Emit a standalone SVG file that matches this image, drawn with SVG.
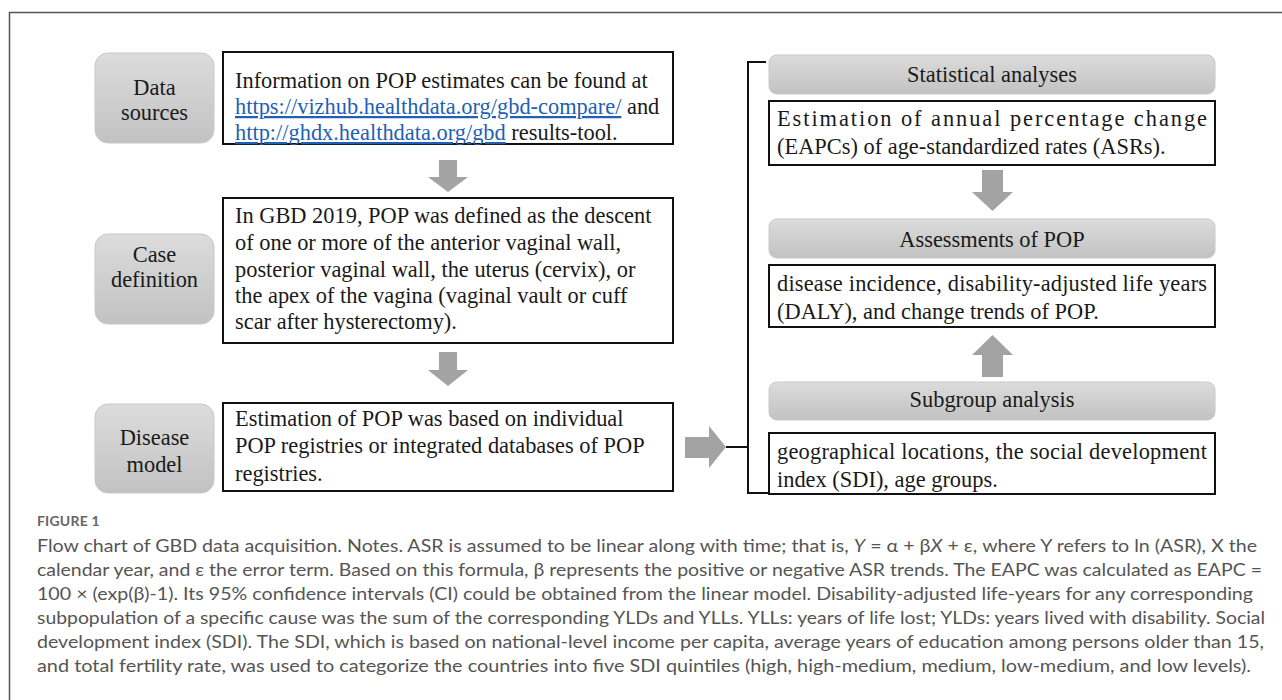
<svg xmlns="http://www.w3.org/2000/svg" width="1282" height="700" viewBox="0 0 1282 700">
<defs>
<linearGradient id="gray" x1="0" y1="0" x2="0" y2="1">
<stop offset="0" stop-color="#dcdcdc"/>
<stop offset="1" stop-color="#c2c2c2"/>
</linearGradient>
<style>
.lbl{fill:url(#gray);stroke:#c8c8c8;stroke-width:1}
.box{fill:#fff;stroke:#111;stroke-width:2}
.t{font-family:"Liberation Serif","Times New Roman",serif;font-size:22.4px;fill:#1a1a1a}
.c{text-anchor:middle}
.lnk{fill:#1f5fb4;text-decoration:underline}
.arr{fill:#a3a3a3}
.cap{font-family:Lato,"Open Sans",sans-serif;font-size:17.5px;fill:#555}
.fig{font-family:Lato,"Open Sans",sans-serif;font-size:14px;font-weight:bold;fill:#666;letter-spacing:0.2px}
.ln{fill:none;stroke:#111;stroke-width:2}
</style>
</defs>
<rect width="1282" height="700" fill="#fff"/>
<path d="M9.5,710 V12.5 H1290" fill="none" stroke="#555" stroke-width="1.5"/>

<g id="data-sources">
<rect class="lbl" x="95" y="53" width="119" height="90" rx="13"/>
<text class="t c" x="154.5" y="95">Data</text>
<text class="t c" x="154.5" y="120">sources</text>
</g>
<g id="info-box">
<rect class="box" x="223" y="52" width="450" height="92"/>
<text class="t" x="235" y="88">Information on POP estimates can be found at</text>
<text class="t" x="235" y="114"><tspan class="lnk">https://vizhub.healthdata.org/gbd-compare/</tspan> and</text>
<text class="t" x="235" y="140"><tspan class="lnk">http://ghdx.healthdata.org/gbd</tspan> results-tool.</text>
</g>
<g id="case-definition">
<rect class="lbl" x="95" y="234" width="119" height="90" rx="13"/>
<text class="t c" x="154.5" y="262">Case</text>
<text class="t c" x="154.5" y="287">definition</text>
</g>
<g id="case-box">
<rect class="box" x="223" y="198" width="450" height="145"/>
<text class="t" x="235" y="223">In GBD 2019, POP was defined as the descent</text>
<text class="t" x="235" y="250">of one or more of the anterior vaginal wall,</text>
<text class="t" x="235" y="277">posterior vaginal wall, the uterus (cervix), or</text>
<text class="t" x="235" y="303">the apex of the vagina (vaginal vault or cuff</text>
<text class="t" x="235" y="329">scar after hysterectomy).</text>
</g>
<g id="disease-model">
<rect class="lbl" x="95" y="404" width="119" height="89" rx="13"/>
<text class="t c" x="154.5" y="445">Disease</text>
<text class="t c" x="154.5" y="472">model</text>
</g>
<g id="model-box">
<rect class="box" x="223" y="403" width="450" height="88"/>
<text class="t" x="235" y="426">Estimation of POP was based on individual</text>
<text class="t" x="235" y="453">POP registries or integrated databases of POP</text>
<text class="t" x="235" y="481">registries.</text>
</g>

<g id="statistical-analyses">
<rect class="lbl" x="769" y="55" width="446" height="39" rx="8"/>
<text class="t c" x="992" y="82">Statistical analyses</text>
</g>
<g id="eapc-box">
<rect class="box" x="769" y="101" width="446" height="64"/>
<text class="t" x="777" y="126" textLength="430" lengthAdjust="spacing">Estimation of annual percentage change</text>
<text class="t" x="777" y="154">(EAPCs) of age-standardized rates (ASRs).</text>
</g>
<g id="assessments">
<rect class="lbl" x="769" y="219" width="446" height="39" rx="8"/>
<text class="t c" x="992" y="247">Assessments of POP</text>
</g>
<g id="assess-box">
<rect class="box" x="769" y="265" width="446" height="62"/>
<text class="t" x="777" y="291" textLength="430" lengthAdjust="spacing">disease incidence, disability-adjusted life years</text>
<text class="t" x="777" y="319">(DALY), and change trends of POP.</text>
</g>
<g id="subgroup">
<rect class="lbl" x="769" y="382" width="446" height="38" rx="8"/>
<text class="t c" x="992" y="407">Subgroup analysis</text>
</g>
<g id="subgroup-box">
<rect class="box" x="769" y="433" width="446" height="61"/>
<text class="t" x="777" y="459" textLength="430" lengthAdjust="spacing">geographical locations, the social development</text>
<text class="t" x="777" y="487">index (SDI), age groups.</text>
</g>

<g id="connectors">
<path class="arr" d="M439,160 H457 V177 H468 L448,192 L428,177 H439 Z"/>
<path class="arr" d="M439,352 H457 V370 H468 L448,386 L428,370 H439 Z"/>
<path class="arr" d="M982,170 H1003 V192 H1013 L992.5,211 L972,192 H982 Z"/>
<path class="arr" d="M982,377 H1003 V355 H1013 L992.5,335 L972,355 H982 Z"/>
<path class="arr" d="M685,437 H709 V426 L726,447 L709,468 V458 H685 Z"/>
<path class="ln" d="M726,447 H748"/>
<path class="ln" d="M766,62 H748 V493 H768"/>
</g>

<text class="fig" x="37" y="526">FIGURE 1</text>
<text class="cap" x="37" y="552" textLength="1220" lengthAdjust="spacingAndGlyphs">Flow chart of GBD data acquisition. Notes. ASR is assumed to be linear along with time; that is, <tspan font-style="italic">Y</tspan> = α + β<tspan font-style="italic">X</tspan> + ε, where Y refers to ln (ASR), X the</text>
<text class="cap" x="37" y="576" textLength="1225" lengthAdjust="spacingAndGlyphs">calendar year, and ε the error term. Based on this formula, β represents the positive or negative ASR trends. The EAPC was calculated as EAPC =</text>
<text class="cap" x="37" y="600" textLength="1216" lengthAdjust="spacingAndGlyphs">100 × (exp(β)-1). Its 95% confidence intervals (CI) could be obtained from the linear model. Disability-adjusted life-years for any corresponding</text>
<text class="cap" x="37" y="624" textLength="1228" lengthAdjust="spacingAndGlyphs">subpopulation of a specific cause was the sum of the corresponding YLDs and YLLs. YLLs: years of life lost; YLDs: years lived with disability. Social</text>
<text class="cap" x="37" y="648" textLength="1227" lengthAdjust="spacingAndGlyphs">development index (SDI). The SDI, which is based on national-level income per capita, average years of education among persons older than 15,</text>
<text class="cap" x="37" y="672" textLength="1214" lengthAdjust="spacingAndGlyphs">and total fertility rate, was used to categorize the countries into five SDI quintiles (high, high-medium, medium, low-medium, and low levels).</text>
</svg>
